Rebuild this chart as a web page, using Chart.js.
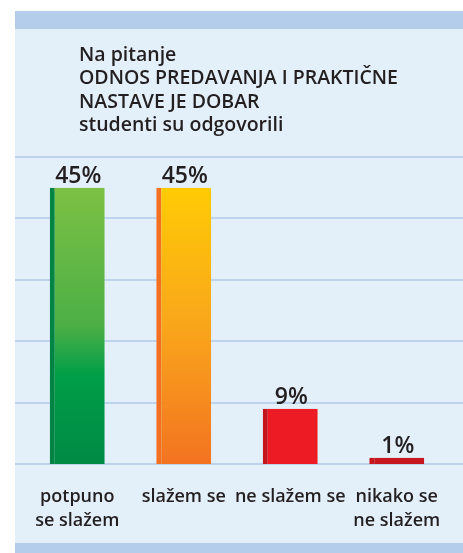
<!DOCTYPE html>
<html>
<head>
<meta charset="utf-8">
<script src="https://cdn.jsdelivr.net/npm/chart.js@4.4.1/dist/chart.umd.min.js"></script>
<style>
  html, body { margin: 0; padding: 0; background: #fff; }
  canvas { display: block; }
</style>
</head>
<body>
<canvas id="odnos" width="463" height="553"></canvas>
<script>
// data
const categories = [['potpuno', 'se slažem'], 'slažem se', 'ne slažem se', ['nikako se', 'ne slažem']];
const values = [45, 45, 9, 1];
const valueLabels = ['45%', '45%', '9%', '1%'];
const titleLines = ['Na pitanje', 'ODNOS PREDAVANJA I PRAKTIČNE', 'NASTAVE JE DOBAR', 'studenti su odgovorili'];
const gridValues = [0, 10, 20, 30, 40, 50];

const ink = '#231f20';
const stripeColors = ['#008443', '#f37021', '#c4161c', '#c8161e'];

function barFill(ctx) {
    const chart = ctx.chart;
    if (!chart.chartArea) return '#ed1c24';
    const y = chart.scales.y;
    const top = y.getPixelForValue(ctx.raw);
    const bottom = y.getPixelForValue(0);
    const g = chart.ctx.createLinearGradient(0, top, 0, bottom);
    if (ctx.dataIndex === 0) {
        g.addColorStop(0, '#7cc144');
        g.addColorStop(0.5, '#4caf46');
        g.addColorStop(0.68, '#009e47');
        g.addColorStop(1, '#008a45');
        return g;
    }
    if (ctx.dataIndex === 1) {
        g.addColorStop(0, '#ffcb05');
        g.addColorStop(0.5, '#f9a61b');
        g.addColorStop(1, '#f37321');
        return g;
    }
    if (ctx.dataIndex === 2) return '#ed1c24';
    return '#c8161e';
}

const panel = {
    id: 'panel',
    beforeDraw(chart) {
        const c = chart.ctx;
        const y = chart.scales.y;
        c.save();
        c.fillStyle = '#ffffff';
        c.fillRect(0, 0, chart.width, chart.height);
        c.fillStyle = '#e3eff9';
        c.fillRect(15, 11, chart.width - 15, chart.height - 11);
        c.fillStyle = '#b4cdea';
        c.fillRect(15, 11, chart.width - 15, 18);
        c.fillRect(15, 543, chart.width - 15, 10);
        // grid lines across the whole panel
        c.strokeStyle = '#bdd3ee';
        c.lineWidth = 2;
        gridValues.forEach(v => {
            const py = Math.round(y.getPixelForValue(v));
            c.beginPath();
            c.moveTo(15, py);
            c.lineTo(chart.width, py);
            c.stroke();
        });
        // title
        c.fillStyle = ink;
        c.font = '600 19.5px "Open Sans"';
        c.textAlign = 'left';
        c.textBaseline = 'alphabetic';
        titleLines.forEach((t, i) => {
            c.fillText(t, 79, 61 + i * 23.4);
        });
        c.restore();
    },
    afterDatasetsDraw(chart) {
        const c = chart.ctx;
        const meta = chart.getDatasetMeta(0);
        c.save();
        c.fillStyle = ink;
        c.font = '600 23px "Open Sans"';
        c.textAlign = 'center';
        c.textBaseline = 'alphabetic';
        meta.data.forEach((bar, i) => {
            c.fillText(valueLabels[i], bar.x + 1, bar.y - 5);
        });
        c.restore();
    }
};

new Chart('odnos', {
    type: 'bar',
    data: {
        labels: categories,
        datasets: [{
            data: values,
            backgroundColor: barFill,
            borderColor: stripeColors,
            borderWidth: { left: 5, top: 0, right: 0, bottom: 0 },
            borderSkipped: false,
            categoryPercentage: 1,
            barPercentage: 0.516
        }]
    },
    options: {
        responsive: false,
        animation: false,
        layout: {
            padding: { left: 24, right: 13, top: 157, bottom: 0 }
        },
        plugins: {
            legend: { display: false },
            tooltip: { enabled: false },
            title: { display: false }
        },
        scales: {
            x: {
                grid: { display: false, drawTicks: false },
                border: { display: false },
                ticks: {
                    color: ink,
                    font: { family: 'Open Sans', size: 18, weight: '600', lineHeight: 1.3333 },
                    padding: 20.5,
                    maxRotation: 0,
                    autoSkip: false
                }
            },
            y: {
                min: 0,
                max: 50,
                grid: { display: false, drawTicks: false },
                border: { display: false },
                ticks: { display: false, stepSize: 10 }
            }
        }
    },
    plugins: [panel]
});
</script>
</body>
</html>
